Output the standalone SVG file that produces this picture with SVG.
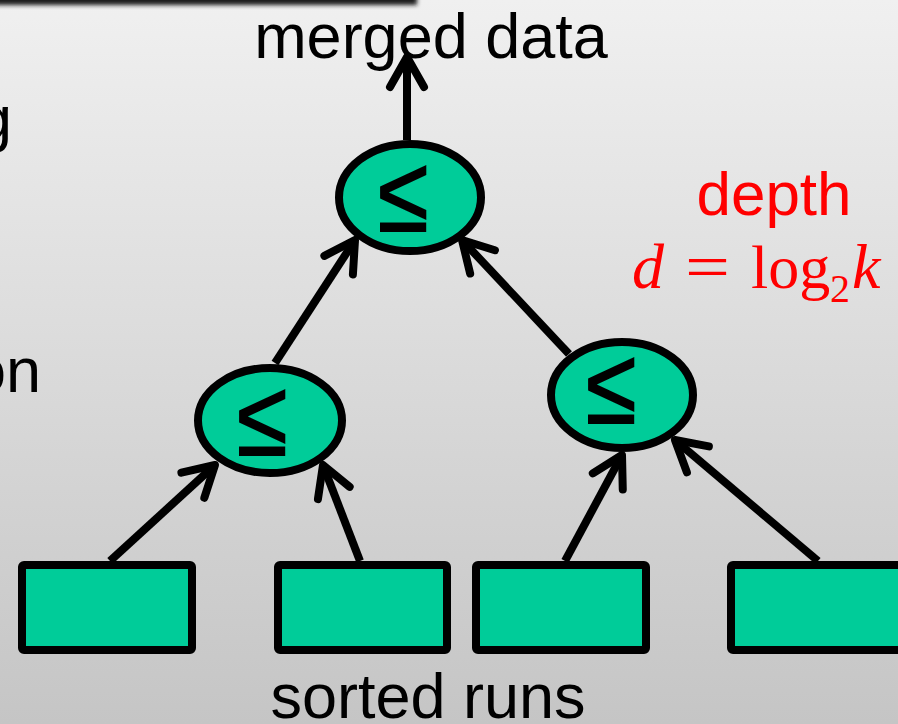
<svg xmlns="http://www.w3.org/2000/svg" width="898" height="724" viewBox="0 0 898 724">
<defs>
<linearGradient id="bg" x1="0" y1="0" x2="0" y2="1">
<stop offset="0" stop-color="#f0f0f0"/>
<stop offset="1" stop-color="#c5c5c5"/>
</linearGradient>
<filter id="blur" x="-0.1" y="-1" width="1.2" height="3"><feGaussianBlur stdDeviation="2"/></filter>
<marker id="arr" markerUnits="userSpaceOnUse" markerWidth="80" markerHeight="80" refX="0" refY="0" orient="auto" overflow="visible">
<path d="M-30,-17 L0,0 L-30,17" fill="none" stroke="#000" stroke-width="8" stroke-linecap="round" stroke-linejoin="round"/>
</marker>
</defs>
<style>
.node{fill:#00cc99;stroke:#000;stroke-width:8}
.op{font-family:"Liberation Sans",Arial,sans-serif;font-size:92px;text-anchor:middle;fill:#000;stroke:#000;stroke-width:1.5}
.lbl{font-family:"Liberation Sans",Arial,sans-serif;font-size:63px;fill:#000}
.edge{stroke:#000;stroke-width:8;fill:none;marker-end:url(#arr)}
.math{font-family:"Liberation Serif","Times New Roman",serif;font-size:64px;fill:#ff0000}
</style>
<rect width="898" height="724" fill="url(#bg)"/>
<rect x="-10" y="-20" width="427" height="25" fill="#1a1a1a" filter="url(#blur)"/>
<text class="lbl" x="12" y="140" text-anchor="end">g</text>
<text class="lbl" x="41" y="392" text-anchor="end">on</text>
<text class="lbl" x="431" y="58" text-anchor="middle">merged data</text>
<text class="lbl" x="428" y="718" text-anchor="middle">sorted runs</text>
<g id="depth">
<text x="774" y="215" text-anchor="middle" font-family="Liberation Sans,Arial,sans-serif" font-size="62" fill="#ff0000">depth</text>
<text class="math" y="288"><tspan x="632" font-style="italic">d</tspan><tspan x="685" textLength="45" lengthAdjust="spacingAndGlyphs">=</tspan><tspan x="751" font-size="62">log</tspan><tspan x="830" y="302" font-size="40">2</tspan><tspan x="852" y="288" font-style="italic">k</tspan></text>
</g>
<g id="connectors">
<line class="edge" x1="407" y1="140" x2="407" y2="57"/>
<line class="edge" x1="275" y1="363" x2="355" y2="240"/>
<line class="edge" x1="569" y1="354" x2="462" y2="240"/>
<line class="edge" x1="110" y1="561" x2="215" y2="465"/>
<line class="edge" x1="360" y1="561" x2="323" y2="465"/>
<line class="edge" x1="565" y1="561" x2="622" y2="455"/>
<line class="edge" x1="818" y1="561" x2="675" y2="440"/>
</g>
<g id="root"><ellipse class="node" cx="410" cy="197.5" rx="71" ry="53.5"/><text class="op" transform="translate(403,231) scale(1,1.17)">≤</text></g>
<g id="mergeL"><ellipse class="node" cx="270" cy="420.5" rx="72" ry="52.5"/><text class="op" transform="translate(262,455) scale(1,1.17)">≤</text></g>
<g id="mergeR"><ellipse class="node" cx="622" cy="395" rx="71" ry="53"/><text class="op" transform="translate(611,423) scale(1,1.17)">≤</text></g>
<g id="run1"><rect class="node" x="22" y="565" width="170" height="85" rx="2"/></g>
<g id="run2"><rect class="node" x="278" y="565" width="169" height="85" rx="2"/></g>
<g id="run3"><rect class="node" x="476" y="565" width="170" height="85" rx="2"/></g>
<g id="run4"><rect class="node" x="731" y="565" width="180" height="85" rx="2"/></g>
</svg>
